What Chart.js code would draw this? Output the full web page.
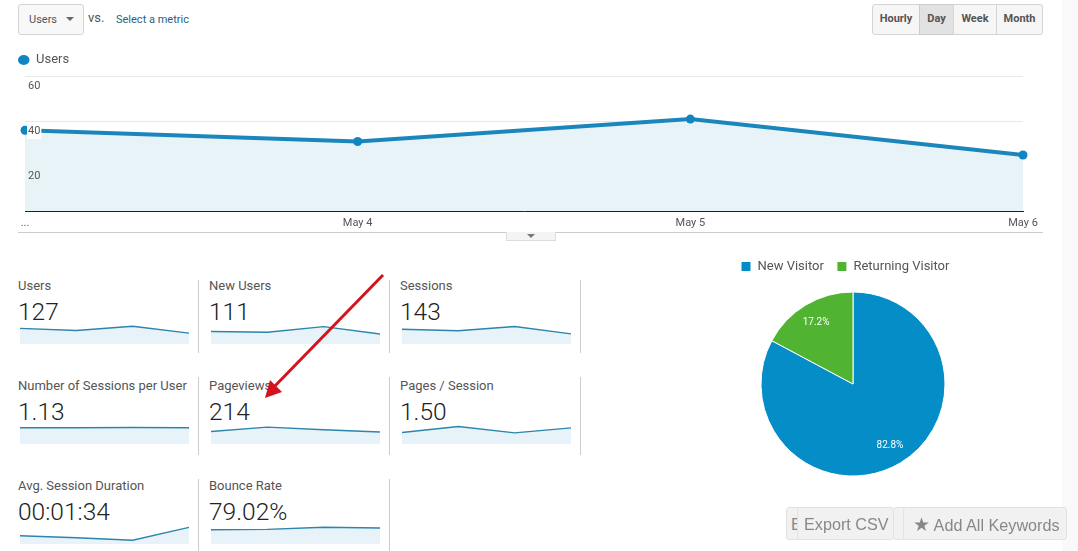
<!DOCTYPE html>
<html><head><meta charset="utf-8">
<style>
html,body{margin:0;padding:0;width:1078px;height:551px;overflow:hidden;background:#fff;font-family:Roboto,sans-serif;color:#555}
.abs,canvas{position:absolute}
.strip{left:1062px;top:0;width:16px;height:551px;background:#f9f9f9}
.btn{box-sizing:border-box;top:4px;height:31px;border:1px solid #d4d4d4;background:#f6f6f6;font-size:11px;font-weight:700;color:#555;text-align:center;line-height:28px}
.lab{font-size:13px;color:#555;white-space:nowrap;line-height:16px}
.val{font-size:24.5px;font-weight:300;color:#222;white-space:nowrap;line-height:30px}
.div{width:1px;background:#ccc}
.ov{box-sizing:border-box;top:507px;height:33px;background:#f1f1f1;border:1px solid #e2e2e2;border-radius:3px;color:#888;font:16.2px/33px "Liberation Sans",sans-serif;white-space:nowrap;overflow:hidden}
</style>
<script src="https://cdn.jsdelivr.net/npm/chart.js@4"></script>
</head><body>
<div class="abs strip"></div>
<div class="abs" style="box-sizing:border-box;left:18px;top:4px;width:66px;height:31px;border:1px solid #d4d4d4;border-radius:3px;background:#f8f8f8;font-size:11px;line-height:29px;padding-left:10px">Users</div>
<div class="abs" style="left:66px;top:17px;width:0;height:0;border-left:4px solid transparent;border-right:4px solid transparent;border-top:4px solid #666"></div>
<div class="abs" style="left:88px;top:10px;font-size:13px;line-height:16px">vs.</div>
<div class="abs" style="left:116px;top:12.5px;font-size:11px;line-height:14px;color:#2b5f7e">Select a metric</div>
<div class="abs btn" style="left:872px;width:48px;border-radius:3px 0 0 3px">Hourly</div>
<div class="abs btn" style="left:919px;width:35px;background:#e2e2e2;border-color:#ccc">Day</div>
<div class="abs btn" style="left:953px;width:44px">Week</div>
<div class="abs btn" style="left:996px;width:47px;border-radius:0 3px 3px 0">Month</div>
<canvas id="main" width="1078" height="191" style="left:0;top:43px"></canvas>
<div class="abs" style="left:18px;top:232px;width:1025px;height:1px;background:#ccc"></div>
<div class="abs" style="box-sizing:border-box;left:506px;top:232px;width:50px;height:9px;background:#f4f4f4;border:1px solid #ddd;border-top:0"></div>
<div class="abs" style="left:527px;top:234px;width:0;height:0;border-left:4px solid transparent;border-right:4px solid transparent;border-top:4px solid #777"></div>
<div id="tiles"></div>
<canvas id="pie" width="250" height="238" style="left:728px;top:247px"></canvas>
<svg class="abs" style="left:0;top:0" width="1078" height="551">
<line x1="383" y1="275" x2="272" y2="389" stroke="#d3141e" stroke-width="3"/>
<polygon points="265,398 270,380 282,392" fill="#d3141e"/>
</svg>
<div class="abs ov" style="left:786px;width:100px;padding-left:4px">E</div>
<div class="abs ov" style="left:893px;width:162px"></div>
<div class="abs ov" style="left:797px;width:97px;padding-left:6px">Export CSV</div>
<div class="abs ov" style="left:903px;width:164px;padding-left:9px"><span style="font-size:19px">★</span> Add All Keywords</div>
<script>
const days = ['...', 'May 4', 'May 5', 'May 6'];
const usersLegend = 'Users';
const users = [36, 31, 41, 25];
const yTicks = [0, 20, 40, 60];
const pieLabels = ['New Visitor', 'Returning Visitor'];
const pieValues = [82.8, 17.2];
const pieColors = ['#058dc7', '#50b432'];

const metricNames = ['Users','New Users','Sessions','Number of Sessions per User','Pageviews','Pages / Session','Avg. Session Duration','Bounce Rate'];
const metricTotals = ['127','111','143','1.13','214','1.50','00:01:34','79.02%'];
const sparkUsers = [36, 31, 41, 25];
const sparkNewUsers = [29, 27, 40, 23];
const sparkSessions = [38, 34, 45, 26];
const sparkSessionsPerUser = [1.12, 1.13, 1.14, 1.13];
const sparkPageviews = [48, 65, 55, 46];
const sparkPagesPerSession = [1.26, 1.91, 1.22, 1.77];
const sparkDuration = [89, 68, 40, 179];
const sparkBounce = [73, 75, 86, 82];
const sparkSeries = [sparkUsers, sparkNewUsers, sparkSessions, sparkSessionsPerUser, sparkPageviews, sparkPagesPerSession, sparkDuration, sparkBounce];
const sparkMax = [60, 60, 67, 1.8, 100, 2.85, 280, 133];

Chart.defaults.font.family = 'Roboto, sans-serif';
Chart.defaults.animation = false;
Chart.defaults.responsive = false;
Chart.defaults.devicePixelRatio = 1;
Chart.defaults.plugins.tooltip.enabled = false;

new Chart(document.getElementById('main'), {
  type: 'line',
  data: { labels: days, datasets: [{
    label: usersLegend, data: users,
    borderColor: '#1a86bb', backgroundColor: '#1a86bb', borderWidth: 4,
    pointRadius: 4.5, pointBackgroundColor: '#0f86c0', pointBorderWidth: 0,
    fill: { target: 'origin', above: '#e8f3f7' }, tension: 0, clip: false
  }]},
  options: {
    layout: { padding: { left: 7.5, right: 55, top: 0, bottom: 0 } },
    plugins: { legend: { display: true, position: 'top', align: 'start',
      labels: { usePointStyle: true, pointStyle: 'circle', boxHeight: 7, pointStyleWidth: 11.5, padding: 10.5,
        color: '#555', font: { size: 13 } } } },
    scales: {
      x: { grid: { display: false, tickLength: 0 }, border: { color: '#222', width: 1 },
        ticks: { autoSkip: false, maxRotation: 0, padding: 6, color: '#555', font: { size: 11 } },
        afterFit: s => { s.height = 23; } },
      y: { min: 0, max: 60, afterBuildTicks: s => { s.ticks = yTicks.map(v => ({ value: v })); },
        afterFit: s => { s.width = 17.5; },
        grid: { color: '#e8e8e8', drawTicks: false }, border: { display: false },
        ticks: { mirror: true, padding: 3, labelOffset: 10, z: 1, color: '#555', font: { size: 11 },
          callback: v => v === 0 ? '' : String(v),
          showLabelBackdrop: true, backdropPadding: 1,
          backdropColor: c => c.tick && c.tick.value === 40 ? '#ffffff' : 'rgba(0,0,0,0)' } }
    }
  }
});

const tileX = [18, 209, 400];
const tileY = [278, 378, 478];
const dividerTop = [280, 377, 479];
const dividerLen = [73, 78, 72];
const tiles = document.getElementById('tiles');
metricNames.forEach((name, i) => {
  const col = i % 3, row = Math.floor(i / 3), x = tileX[col], y = tileY[row];
  tiles.insertAdjacentHTML('beforeend',
    `<div class="abs lab" style="left:${x}px;top:${y}px">${name}</div>` +
    `<div class="abs val" style="left:${x}px;top:${y + 19}px">${metricTotals[i]}</div>` +
    `<canvas id="sp${i}" width="169" height="26" style="left:${x + 2}px;top:${y + 40}px"></canvas>` +
    `<div class="abs div" style="left:${x + 180}px;top:${dividerTop[row]}px;height:${dividerLen[row]}px"></div>`);
});
metricNames.forEach((name, i) => {
  new Chart(document.getElementById('sp' + i), {
    type: 'line',
    data: { labels: days, datasets: [{
      label: name, data: sparkSeries[i], borderColor: '#2b85ad', borderWidth: 1.4, pointRadius: 0,
      fill: { target: 'origin', above: '#e7f3f9' }, tension: 0, clip: false }]},
    options: { plugins: { legend: { display: false } },
      scales: { x: { display: false }, y: { display: false, min: 0, max: sparkMax[i] } } }
  });
});

const pieText = {
  id: 'pieText',
  afterDatasetsDraw(chart) {
    const ctx = chart.ctx;
    chart.getDatasetMeta(0).data.forEach((arc, i) => {
      const p = arc.getProps(['x', 'y', 'startAngle', 'endAngle', 'outerRadius']);
      const a = (p.startAngle + p.endAngle) / 2, r = p.outerRadius * 0.78;
      ctx.save();
      ctx.fillStyle = '#fff'; ctx.font = '10px Roboto, sans-serif';
      ctx.textAlign = 'center'; ctx.textBaseline = 'middle';
      ctx.fillText(pieValues[i].toFixed(1) + '%', p.x + Math.cos(a) * r, p.y + Math.sin(a) * r);
      ctx.restore();
    });
  }
};
new Chart(document.getElementById('pie'), {
  type: 'pie',
  data: { labels: pieLabels, datasets: [{ data: pieValues, backgroundColor: pieColors, borderColor: '#fff', borderWidth: 1 }] },
  options: { radius: 92,
    plugins: { legend: { display: true, position: 'top', align: 'start',
      labels: { boxWidth: 10, boxHeight: 10, padding: 13, color: '#555', font: { size: 13 } } } } },
  plugins: [pieText]
});
</script>
</body></html>
